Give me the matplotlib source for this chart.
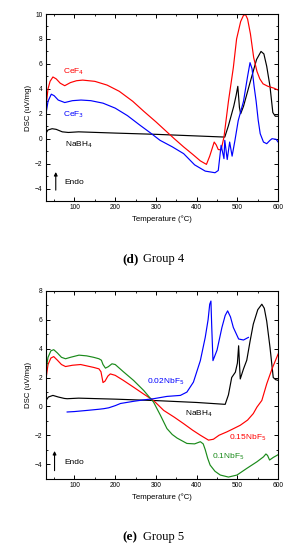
import matplotlib
matplotlib.use("Agg")
import matplotlib.pyplot as plt
from matplotlib.ticker import MultipleLocator

plt.rcParams['font.family'] = ['Liberation Sans', 'DejaVu Sans']

# --- Group 4 data (temperature in C, DSC in uV/mg) --- #
cef4_t = [30, 35, 40, 47, 55, 65, 76, 90, 105, 120, 150, 180, 210, 243, 270, 300, 323, 345,
          368, 390, 409, 424, 432, 443, 448, 453, 460, 467, 478, 490, 498, 508, 515, 520, 525,
          532, 540, 548, 555, 563, 575, 590, 600]
cef4_v = [2.6, 4.0, 4.6, 4.95, 4.8, 4.45, 4.25, 4.5, 4.65, 4.7, 4.6, 4.3, 3.8, 3.0, 2.2, 1.35,
          0.66, 0.0, -0.66, -1.25, -1.78, -2.06, -1.4, -0.27, -0.5, -0.87, -0.9, 0.13, 3.0, 5.7,
          8.0, 9.4, 9.9, 9.95, 9.6, 8.4, 6.5, 5.4, 4.8, 4.4, 4.2, 4.05, 3.9]

cef3_t = [30, 35, 43, 50, 60, 76, 95, 116, 140, 170, 200, 230, 260, 285, 310, 340, 368, 395,
          421, 445, 453, 460, 467, 469, 475, 481, 487, 494, 502, 515, 525, 531, 536, 541, 546,
          551, 556, 564, 572, 580, 585, 595, 600]
cef3_v = [2.0, 3.0, 3.57, 3.45, 3.1, 2.9, 3.05, 3.1, 3.05, 2.85, 2.45, 1.85, 1.1, 0.5, -0.13,
          -0.65, -1.2, -2.1, -2.6, -2.73, -2.55, -0.53, -1.6, -0.13, -1.67, -0.27, -1.4, -0.13,
          1.45, 3.0, 5.0, 6.1, 5.6, 4.2, 3.0, 1.5, 0.4, -0.27, -0.4, -0.13, 0.0, -0.05, -0.27]

nabh4_t = [30, 35, 45, 55, 70, 85, 110, 200, 300, 400, 469, 478, 491, 497, 501, 505, 508, 515,
           531, 547, 558, 565, 572, 580, 587, 593, 600]
nabh4_v = [0.45, 0.7, 0.8, 0.75, 0.55, 0.5, 0.55, 0.45, 0.35, 0.22, 0.13, 1.05, 2.6, 3.5, 4.2,
           2.5, 2.0, 2.6, 4.5, 6.35, 7.0, 6.8, 5.8, 4.2, 2.1, 1.8, 1.8]

# --- Group 5 data --- #
nb01_t = [30, 35, 42, 49, 58, 68, 78, 90, 111, 130, 147, 160, 166, 170, 176, 183, 192, 200,
          220, 245, 270, 294, 311, 327, 340, 352, 376, 395, 409, 416, 421, 427, 433, 445, 458,
          478, 499, 523, 548, 564, 570, 574, 579, 588, 600]
nb01_v = [2.5, 3.4, 3.85, 3.93, 3.7, 3.4, 3.3, 3.4, 3.55, 3.5, 3.4, 3.3, 3.2, 2.9, 2.65, 2.75,
          2.95, 2.9, 2.4, 1.8, 1.1, 0.3, -0.62, -1.54, -1.95, -2.2, -2.57, -2.6, -2.45, -2.6,
          -3.0, -3.6, -4.07, -4.5, -4.76, -4.9, -4.76, -4.3, -3.84, -3.5, -3.3, -3.4, -3.72,
          -3.54, -3.35]

nb015_t = [30, 35, 42, 49, 58, 68, 78, 95, 115, 147, 160, 165, 170, 175, 182, 188, 200, 220,
           245, 270, 294, 319, 345, 368, 390, 409, 429, 441, 455, 474, 490, 507, 525, 539, 548,
           560, 572, 585, 600]
nb015_v = [1.9, 2.9, 3.35, 3.45, 3.2, 2.9, 2.76, 2.85, 2.9, 2.7, 2.6, 2.4, 1.65, 1.75, 2.1,
           2.25, 2.15, 1.8, 1.33, 0.85, 0.41, -0.28, -0.75, -1.2, -1.65, -2.0, -2.34, -2.28,
           -2.0, -1.77, -1.55, -1.31, -0.95, -0.5, -0.05, 0.41, 1.56, 2.6, 3.63]

nb002_t = [82, 100, 131, 160, 172, 184, 200, 213, 245, 270, 294, 327, 360, 376, 392, 409, 421,
           428, 432, 435, 437, 440, 450, 462, 470, 476, 483, 490, 503, 515, 527]
nb002_v = [-0.39, -0.36, -0.28, -0.2, -0.16, -0.1, 0.05, 0.2, 0.35, 0.45, 0.53, 0.69, 0.76,
           0.99, 1.68, 3.17, 4.78, 6.0, 7.08, 7.3, 5.5, 3.17, 3.9, 5.47, 6.3, 6.62, 6.2, 5.47,
           4.67, 4.6, 4.78]

nabh4b_t = [30, 36, 47, 60, 75, 82, 110, 200, 300, 400, 470, 478, 486, 495, 500, 503, 505, 507,
            515, 523, 531, 539, 550, 560, 566, 572, 580, 588, 594, 600]
nabh4b_v = [0.41, 0.65, 0.76, 0.65, 0.55, 0.53, 0.57, 0.5, 0.4, 0.27, 0.14, 0.8, 2.0, 2.37,
            3.0, 4.2, 3.0, 1.9, 2.6, 3.2, 4.5, 5.7, 6.7, 7.08, 6.8, 5.9, 4.1, 2.0, 1.85, 1.8]

RED = '#ff0000'
BLUE = '#0000ff'
GREEN = '#1a8a1a'
BLACK = '#000000'


def style_axes(ax, ymin, ymax):
    ax.set_xlim(30, 600)
    ax.set_ylim(ymin, ymax)
    ax.xaxis.set_major_locator(MultipleLocator(100))
    ax.xaxis.set_minor_locator(MultipleLocator(50))
    ax.yaxis.set_major_locator(MultipleLocator(2))
    ax.yaxis.set_minor_locator(MultipleLocator(1))
    ax.tick_params(which='both', direction='in', top=True, right=True, labelsize=4.8, pad=2.5)
    ax.tick_params(which='major', length=3, width=0.7)
    ax.tick_params(which='minor', length=1.6, width=0.6)
    for sp in ax.spines.values():
        sp.set_linewidth(0.8)
    ax.set_xlabel('Temperature (°C)', fontsize=5.6, labelpad=3)
    ax.set_ylabel('DSC (uV/mg)', fontsize=5.6, labelpad=2)


fig = plt.figure(figsize=(2.92, 5.5), dpi=100)

# --- Group 4 --- #
ax1 = fig.add_axes([0.1575, 0.6345, 0.795, 0.34])
ax1.plot(nabh4_t, nabh4_v, color=BLACK, lw=0.85)
ax1.plot(cef4_t, cef4_v, color=RED, lw=0.85)
ax1.plot(cef3_t, cef3_v, color=BLUE, lw=0.85)
style_axes(ax1, -5, 10)
ax1.text(71, 5.4, 'CeF$_4$', color=RED, fontsize=6, va='center')
ax1.text(71, 1.9, 'CeF$_3$', color=BLUE, fontsize=6, va='center')
ax1.text(76, -0.5, 'NaBH$_4$', color=BLACK, fontsize=6, va='center')
ax1.text(76, -3.55, 'Endo', color=BLACK, fontsize=6, va='center')
ax1.annotate('', xy=(54, -2.45), xytext=(54, -4.35),
             arrowprops=dict(arrowstyle='-|>', color=BLACK, lw=0.8, mutation_scale=5))

# --- Group 5 --- #
ax2 = fig.add_axes([0.1575, 0.13, 0.795, 0.341])
ax2.plot(nabh4b_t, nabh4b_v, color=BLACK, lw=0.85)
ax2.plot(nb015_t, nb015_v, color=RED, lw=0.85)
ax2.plot(nb01_t, nb01_v, color=GREEN, lw=0.85)
ax2.plot(nb002_t, nb002_v, color=BLUE, lw=0.85)
style_axes(ax2, -5, 8)
ax2.text(278, 1.68, '0.02NbF$_5$', color=BLUE, fontsize=6, va='center')
ax2.text(372, -0.48, 'NaBH$_4$', color=BLACK, fontsize=6, va='center')
ax2.text(480, -2.2, '0.15NbF$_5$', color=RED, fontsize=6, va='center')
ax2.text(438, -3.5, '0.1NbF$_5$', color=GREEN, fontsize=6, va='center')
ax2.text(76, -3.9, 'Endo', color=BLACK, fontsize=6, va='center')
ax2.annotate('', xy=(51, -2.9), xytext=(51, -4.65),
             arrowprops=dict(arrowstyle='-|>', color=BLACK, lw=0.8, mutation_scale=5))

# --- Captions --- #
serif = ['Liberation Serif', 'DejaVu Serif']
fig.text(122 / 292, 1 - 259 / 550, '(d)', family=serif, fontweight='bold', fontsize=9.5,
         va='center', ha='left')
fig.text(143 / 292, 1 - 259 / 550, 'Group 4', family=serif, fontsize=9, va='center', ha='left')
fig.text(122 / 292, 1 - 537 / 550, '(e)', family=serif, fontweight='bold', fontsize=9.5,
         va='center', ha='left')
fig.text(143 / 292, 1 - 537 / 550, 'Group 5', family=serif, fontsize=9, va='center', ha='left')

fig.savefig('out.png', dpi=100)
